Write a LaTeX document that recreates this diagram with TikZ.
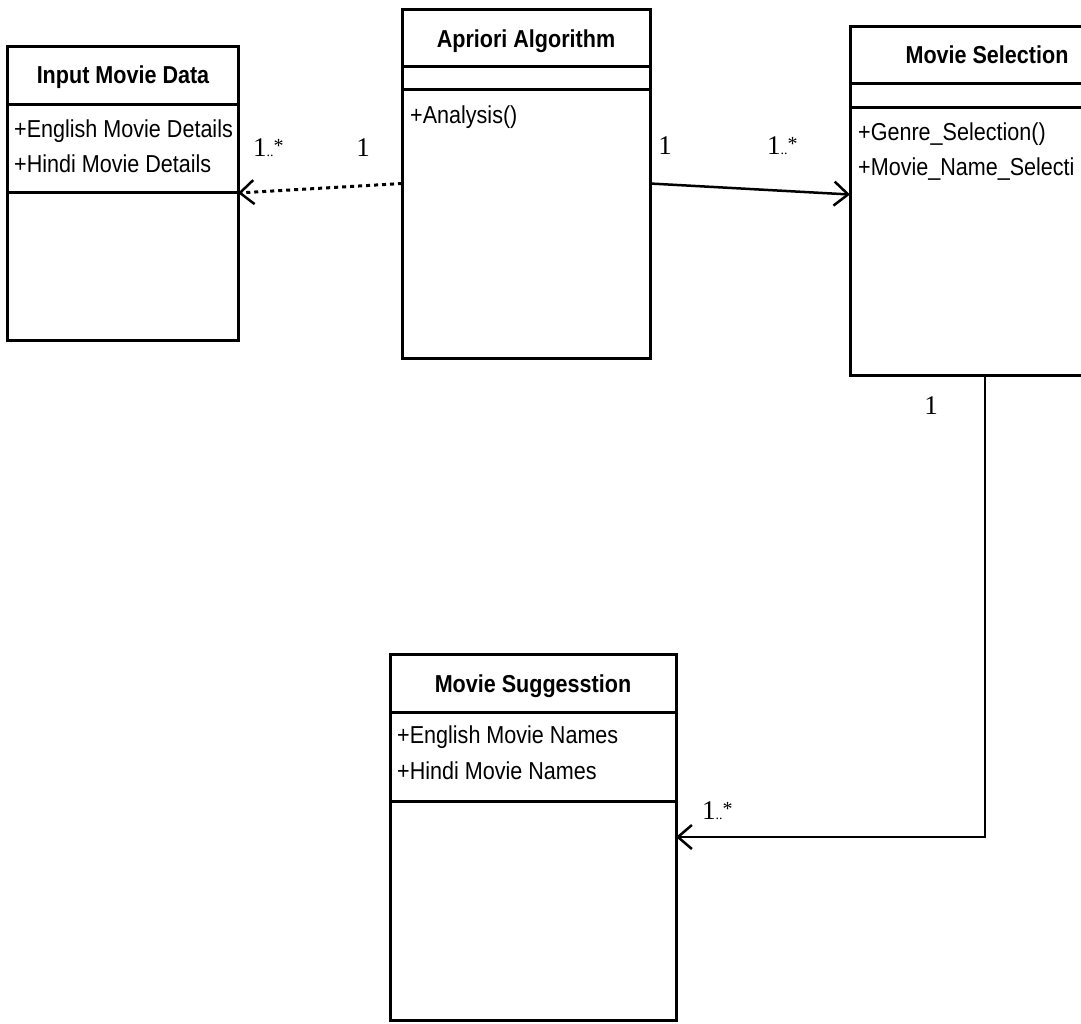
\documentclass[tikz,border=0pt]{standalone}
\usepackage{fontspec}
\setmainfont{Liberation Serif}
\newfontfamily\umlfont[FakeStretch=0.88]{Liberation Sans}
\usetikzlibrary{arrows.meta}

\tikzset{
  classbox/.style={draw, line width=3pt, fill=white, inner sep=0pt, outer sep=0pt},
  divider/.style={line width=3pt},
  classname/.style={font=\umlfont\bfseries\fontsize{24.5}{24.5}\selectfont, inner sep=0pt, anchor=base},
  member/.style={font=\umlfont\fontsize{24.5}{24.5}\selectfont, inner sep=0pt, anchor=base west},
  mult/.style={font=\fontsize{27}{27}\selectfont, inner sep=0pt},
  assoc/.style={line width=2.5pt, -{Straight Barb[length=14pt,width=24pt,line width=2.5pt]}},
  depend/.style={assoc, line width=3pt, dash pattern=on 4pt off 4pt}
}
% multiplicity "one or more": small low dots, raised star
\newcommand{\onemany}{1{\fontsize{14}{14}\selectfont..}\raisebox{4pt}{\fontsize{20}{20}\selectfont*}}

\begin{document}
\begin{tikzpicture}[x=1pt, y=-1pt]
  \clip (0,0) rectangle (1081,1023);
  \fill[white] (0,0) rectangle (1081,1023);

  % class boxes
  \node[classbox, minimum width=231pt, minimum height=294pt] (input) at (122.5,193) {};
  \node[classbox, minimum width=248pt, minimum height=349pt] (apriori) at (526,183.5) {};
  \node[classbox, minimum width=270pt, minimum height=349pt] (selection) at (985,200.5) {};
  \node[classbox, minimum width=286pt, minimum height=366pt] (suggestion) at (533,837) {};

  % compartment dividers
  \draw[divider] (input.west |- 0,104) -- (input.east |- 0,104);
  \draw[divider] (input.west |- 0,192) -- (input.east |- 0,192);
  \draw[divider] (apriori.west |- 0,66) -- (apriori.east |- 0,66);
  \draw[divider] (apriori.west |- 0,89) -- (apriori.east |- 0,89);
  \draw[divider] (selection.west |- 0,83) -- (selection.east |- 0,83);
  \draw[divider] (selection.west |- 0,107) -- (selection.east |- 0,107);
  \draw[divider] (suggestion.west |- 0,712) -- (suggestion.east |- 0,712);
  \draw[divider] (suggestion.west |- 0,801) -- (suggestion.east |- 0,801);

  % class names
  \node[classname] (inputname) at (123,83) {Input Movie Data};
  \node[classname] (aprioriname) at (526,47) {Apriori Algorithm};
  \node[classname] (selectionname) at (987,63) {Movie Selection};
  \node[classname] (suggestionname) at (533,692) {Movie Suggesstion};

  % members
  \node[member] (in1) at (14,137) {+English Movie Details};
  \node[member] (in2) at (14,172) {+Hindi Movie Details};
  \node[member] (ap1) at (410,123) {+Analysis()};
  \node[member] (se1) at (858,140) {+Genre\_Selection()};
  \node[member] (se2) at (858,175) {+Movie\_Name\_Selecti};
  \node[member] (su1) at (397,743) {+English Movie Names};
  \node[member] (su2) at (397,779) {+Hindi Movie Names};

  % connectors
  \draw[depend] (apriori.west) -- (input.east);
  \draw[assoc] (apriori.east) -- ([yshift=6pt]selection.west);
  \draw[assoc] (selection.south) |- (suggestion.east);

  % multiplicities
  \node[mult, anchor=base west] (m1) at (253,156) {\onemany};
  \node[mult, anchor=base] (m2) at (363,156) {1};
  \node[mult, anchor=base] (m3) at (665,154) {1};
  \node[mult, anchor=base west] (m4) at (767,154) {\onemany};
  \node[mult, anchor=base] (m5) at (931,414) {1};
  \node[mult, anchor=base west] (m6) at (702,819) {\onemany};
\end{tikzpicture}
\end{document}
